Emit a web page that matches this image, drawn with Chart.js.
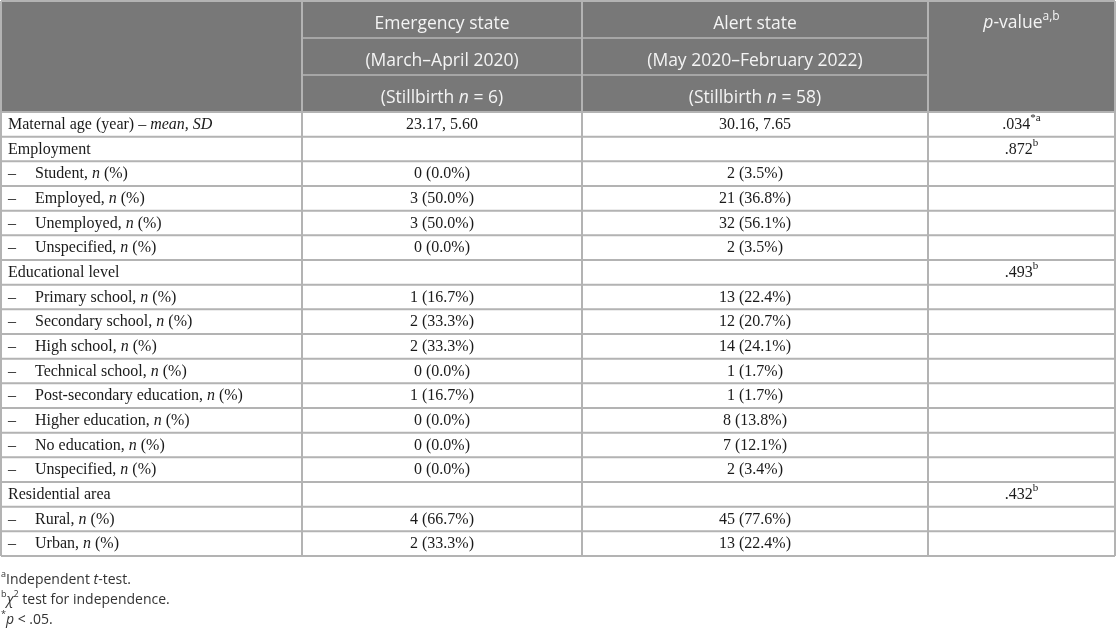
<!DOCTYPE html>
<html><head><meta charset="utf-8">
<script src="https://cdn.jsdelivr.net/npm/chart.js@4.4.0/dist/chart.umd.min.js"></script>
<style>html,body{margin:0;padding:0;background:#fff;}canvas{display:block;}</style>
</head><body>
<canvas id="c" width="1116" height="628" style="width:1116px;height:628px"></canvas>
<script>
// ---- DATA ----
const rowLabels = [
  "Maternal age (year) – _mean, SD_",
  "Employment",
  "– Student, _n_ (%)",
  "– Employed, _n_ (%)",
  "– Unemployed, _n_ (%)",
  "– Unspecified, _n_ (%)",
  "Educational level",
  "– Primary school, _n_ (%)",
  "– Secondary school, _n_ (%)",
  "– High school, _n_ (%)",
  "– Technical school, _n_ (%)",
  "– Post-secondary education, _n_ (%)",
  "– Higher education, _n_ (%)",
  "– No education, _n_ (%)",
  "– Unspecified, _n_ (%)",
  "Residential area",
  "– Rural, _n_ (%)",
  "– Urban, _n_ (%)"
];
const emergencyValues = ["23.17, 5.60","","0 (0.0%)","3 (50.0%)","3 (50.0%)","0 (0.0%)","","1 (16.7%)","2 (33.3%)","2 (33.3%)","0 (0.0%)","1 (16.7%)","0 (0.0%)","0 (0.0%)","0 (0.0%)","","4 (66.7%)","2 (33.3%)"];
const alertValues = ["30.16, 7.65","","2 (3.5%)","21 (36.8%)","32 (56.1%)","2 (3.5%)","","13 (22.4%)","12 (20.7%)","14 (24.1%)","1 (1.7%)","1 (1.7%)","8 (13.8%)","7 (12.1%)","2 (3.4%)","","45 (77.6%)","13 (22.4%)"];
const pValues = [".034^*a^",".872^b^","","","","",".493^b^","","","","","","","","",".432^b^","",""];
const headerEmergency = ["Emergency state","(March–April 2020)","(Stillbirth _n_ = 6)"];
const headerAlert = ["Alert state","(May 2020–February 2022)","(Stillbirth _n_ = 58)"];
const headerP = ["_p_-value^a,b^"];
const footnotes = ["^a^Independent _t_-test.","^b^_χ_^2^ test for independence.","^*^_p_ < .05."];

// ---- LAYOUT / STYLE ----
const colEdges = [1, 302, 582, 928, 1115];
const TABLE_TOP = 1;
const HEADER_BG = "#787878";
const GRID = "#b3b3b3";
const HEADER_GRID = "#a6a6a6";
const SERIF = "'Liberation Serif', 'DejaVu Serif', serif";
const SANS = "'Open Sans', 'Noto Sans', sans-serif";
const BODY_SIZE = 16, HEAD_SIZE = 17.5, NOTE_SIZE = 14;

function parseRich(s){
  const segs=[]; let it=false, sup=false, buf='';
  for(const ch of s){
    if(ch==='_'||ch==='^'){
      if(buf) segs.push({t:buf,it,sup}); buf='';
      if(ch==='_') it=!it; else sup=!sup;
    } else buf+=ch;
  }
  if(buf) segs.push({t:buf,it,sup});
  return segs;
}
function fontFor(seg,size,family){
  return (seg.it?'italic ':'')+(seg.sup?Math.round(size*0.66):size)+'px '+family;
}
function drawRich(ctx,s,x,y,align,size,family,color){
  const segs=parseRich(s);
  let w=0;
  segs.forEach(g=>{ctx.font=fontFor(g,size,family); g.w=ctx.measureText(g.t).width; w+=g.w;});
  let cx = align==='center' ? x-w/2 : (align==='right'? x-w : x);
  ctx.fillStyle=color; ctx.textBaseline='middle'; ctx.textAlign='left';
  segs.forEach(g=>{
    ctx.font=fontFor(g,size,family);
    ctx.fillText(g.t,cx,g.sup? y-size*0.4 : y);
    cx+=g.w;
  });
}

const tablePlugin = {
  id:'tablePlugin',
  afterDraw(chart){
    const {ctx, chartArea:a, scales:{x,y}} = chart;
    const n = rowLabels.length;
    const rowH = (a.bottom-a.top)/n;
    const X = colEdges.map(v=>x.getPixelForValue(v));
    const hTop = TABLE_TOP, hBot = a.top, subH=(hBot-hTop)/3;
    ctx.save();
    ctx.fillStyle=HEADER_BG;
    ctx.fillRect(X[0],hTop,X[4]-X[0],hBot-hTop);
    ctx.strokeStyle=HEADER_GRID; ctx.lineWidth=2;
    ctx.beginPath();
    for(let k=1;k<3;k++){
      const yy=hTop+k*subH;
      ctx.moveTo(X[1],yy); ctx.lineTo(X[3],yy);
    }
    ctx.stroke();
    ctx.strokeStyle=GRID; ctx.lineWidth=2;
    ctx.beginPath();
    ctx.moveTo(X[0],hTop); ctx.lineTo(X[4],hTop);
    for(let i=0;i<n;i++){
      const yy=y.getPixelForValue(i)-rowH/2;
      ctx.moveTo(X[0],yy); ctx.lineTo(X[4],yy);
    }
    ctx.moveTo(X[0],a.bottom); ctx.lineTo(X[4],a.bottom);
    X.forEach(xx=>{ctx.moveTo(xx,hTop); ctx.lineTo(xx,a.bottom);});
    ctx.stroke();
    const hc=(X[1]+X[2])/2, ha=(X[2]+X[3])/2, hp=(X[3]+X[4])/2;
    const HC='#f4f4f4';
    headerEmergency.forEach((t,k)=>drawRich(ctx,t,hc,hTop+(k+0.5)*subH+5,'center',HEAD_SIZE,SANS,HC));
    headerAlert.forEach((t,k)=>drawRich(ctx,t,ha,hTop+(k+0.5)*subH+5,'center',HEAD_SIZE,SANS,HC));
    headerP.forEach((t,k)=>drawRich(ctx,t,hp,hTop+(k+0.5)*subH+4,'center',HEAD_SIZE,SANS,HC));
    const c2=(X[1]+X[2])/2, c3=(X[2]+X[3])/2, c4=(X[3]+X[4])/2;
    const TC='#1a1a1a';
    rowLabels.forEach((lab,i)=>{
      const yy=y.getPixelForValue(i)+0.5;
      if(lab.startsWith('– ')){
        drawRich(ctx,'–',X[0]+7,yy,'left',BODY_SIZE,SERIF,TC);
        drawRich(ctx,lab.slice(2),X[0]+34,yy,'left',BODY_SIZE,SERIF,TC);
      } else drawRich(ctx,lab,X[0]+7,yy,'left',BODY_SIZE,SERIF,TC);
      if(emergencyValues[i]) drawRich(ctx,emergencyValues[i],c2,yy,'center',BODY_SIZE,SERIF,TC);
      if(alertValues[i]) drawRich(ctx,alertValues[i],c3,yy,'center',BODY_SIZE,SERIF,TC);
      if(pValues[i]) drawRich(ctx,pValues[i],c4,yy,'center',BODY_SIZE,SERIF,TC);
    });
    footnotes.forEach((t,k)=>drawRich(ctx,t,X[0],a.bottom+24+k*20,'left',NOTE_SIZE,SANS,'#333333'));
    ctx.restore();
  }
};

new Chart(document.getElementById('c'),{
  type:'bar',
  data:{labels:rowLabels,datasets:[]},
  options:{
    responsive:false, animation:false, indexAxis:'y',
    layout:{padding:{top:112,bottom:72,left:0,right:0}},
    plugins:{legend:{display:false},tooltip:{enabled:false}},
    scales:{
      x:{type:'linear',min:0,max:1116,display:false},
      y:{type:'category',offset:true,display:false}
    }
  },
  plugins:[tablePlugin]
});
</script>
</body></html>
